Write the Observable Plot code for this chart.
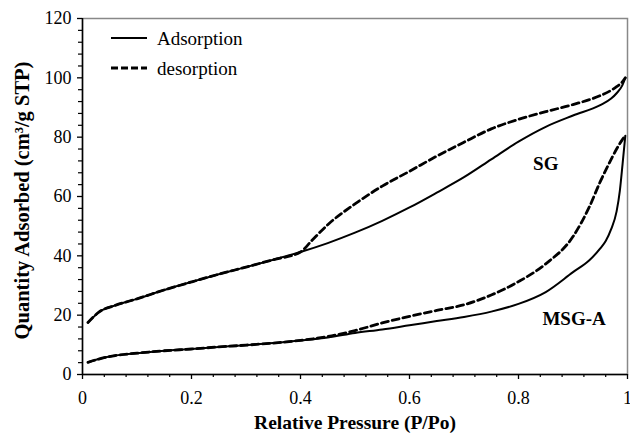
<!DOCTYPE html>
<html>
<head>
<meta charset="utf-8">
<script src="https://cdn.jsdelivr.net/npm/d3@7"></script>
<script src="https://cdn.jsdelivr.net/npm/@observablehq/plot@0.6"></script>
<style>
  html, body { margin: 0; padding: 0; background: #fff; }
  #wrap { position: relative; width: 630px; height: 437px; font-family: "Liberation Serif", "Times New Roman", serif; }
  #legend { position: absolute; left: 0; top: 0; }
  #wrap svg text { font-family: "Liberation Serif", "Times New Roman", serif; font-variant-numeric: normal; }
</style>
</head>
<body>
<div id="wrap"><svg id="legend" width="260" height="90"></svg></div>
<script>
// ---- data ----
const sgAdsP = [0.01,0.03,0.06,0.1,0.15,0.2,0.25,0.3,0.35,0.4,0.45,0.5,0.55,0.6,0.65,0.7,0.75,0.8,0.85,0.9,0.95,0.97,0.98,0.99,0.996];
const sgAdsQ = [17.5,21,23.3,25.5,28.5,31.2,33.8,36.2,38.7,41.3,44.3,47.8,51.8,56.3,61.3,66.5,72.5,78.5,83.5,87.3,90.8,93,94.8,97.3,100];
const sgDesP = [0.01,0.03,0.06,0.1,0.15,0.2,0.25,0.3,0.35,0.4,0.42,0.45,0.5,0.55,0.6,0.65,0.7,0.75,0.8,0.85,0.9,0.95,0.97,0.98,0.99,0.996];
const sgDesQ = [17.5,21,23.3,25.5,28.5,31.2,33.8,36.2,38.7,41.3,45,50.5,57.5,63.5,68.5,73.6,78.3,82.8,86,88.6,91,94,95.8,97,98.5,100];
const msgAdsP = [0.01,0.03,0.06,0.1,0.15,0.2,0.25,0.3,0.35,0.4,0.45,0.5,0.55,0.6,0.65,0.7,0.75,0.8,0.85,0.9,0.93,0.95,0.96,0.97,0.98,0.986,0.991,0.996];
const msgAdsQ = [4.1,5.2,6.4,7.2,8.0,8.6,9.3,9.9,10.6,11.5,12.5,14,15.2,16.6,18,19.4,21.2,23.8,27.8,34.5,38.5,42.5,45,49,55,62,71,80.5];
const msgDesP = [0.01,0.03,0.06,0.1,0.15,0.2,0.25,0.3,0.35,0.4,0.45,0.5,0.55,0.6,0.65,0.7,0.75,0.8,0.85,0.9,0.93,0.95,0.97,0.98,0.99,0.996];
const msgDesQ = [4.1,5.2,6.4,7.2,8.0,8.6,9.3,9.9,10.6,11.5,12.8,14.8,17.4,19.6,21.6,23.5,26.8,31.3,37.3,46.5,56.5,65,72.5,76,79,80.6];

const sampleNames = ["SG", "MSG-A"];
const sampleLabelP = [0.85, 0.902];
const sampleLabelQ = [71, 18.8];

const xTicks = [0, 0.2, 0.4, 0.6, 0.8, 1];
const xTickLabels = ["0", "0.2", "0.4", "0.6", "0.8", "1"];
const xMinorTicks = [0.04,0.08,0.12,0.16,0.24,0.28,0.32,0.36,0.44,0.48,0.52,0.56,0.64,0.68,0.72,0.76,0.84,0.88,0.92,0.96];
const yTicks = [0, 20, 40, 60, 80, 100, 120];
const yMinorTicks = [4,8,12,16,24,28,32,36,44,48,52,56,64,68,72,76,84,88,92,96,104,108,112,116];

const xTitle = "Relative Pressure (P/Po)";
const yTitle = "Quantity Adsorbed (cm\u00B3/g STP)";
const legendNames = ["Adsorption", "desorption"];

// ---- build tables ----
const toRows = (P, Q) => P.map((p, i) => ({p, q: Q[i]}));
const sgAds = toRows(sgAdsP, sgAdsQ);
const sgDes = toRows(sgDesP, sgDesQ);
const msgAds = toRows(msgAdsP, msgAdsQ);
const msgDes = toRows(msgDesP, msgDesQ);
const labels = sampleNames.map((t, i) => ({t, p: sampleLabelP[i], q: sampleLabelQ[i]}));

const font = "Liberation Serif";
const solid = {x: "p", y: "q", stroke: "black", strokeWidth: 2, curve: "monotone-x"};
const dashed = {x: "p", y: "q", stroke: "black", strokeWidth: 2.8, strokeDasharray: "7,4", curve: "monotone-x"};

const chart = Plot.plot({
  width: 630,
  height: 437,
  marginLeft: 82,
  marginRight: 3,
  marginTop: 18,
  marginBottom: 63,
  style: {fontFamily: font, fontSize: "18px", color: "black", background: "white"},
  x: {domain: [0, 1]},
  y: {domain: [0, 120]},
  marks: [
    Plot.frame({stroke: "#888", strokeWidth: 1.5}),
    Plot.axisX({ticks: xTicks, tickSize: 5, tickPadding: 12, label: null, fontSize: 18, fontFamily: font, strokeWidth: 1.3,
      tickFormat: d => xTickLabels[xTicks.indexOf(d)]}),
    Plot.axisX({ticks: xMinorTicks, tickSize: 3, text: null, label: null, strokeWidth: 1.2}),
    Plot.axisY({ticks: yTicks, tickSize: 5, tickPadding: 6, label: null, fontSize: 18, fontFamily: font, strokeWidth: 1.3,
      tickFormat: d => String(d)}),
    Plot.axisY({ticks: yMinorTicks, tickSize: 4, text: null, label: null, strokeWidth: 1.2}),
    Plot.ruleX([0], {strokeWidth: 1.5}),
    Plot.ruleY([0], {strokeWidth: 1.5}),
    Plot.line(sgAds, solid),
    Plot.line(sgDes, dashed),
    Plot.line(msgAds, solid),
    Plot.line(msgDes, dashed),
    Plot.text(labels, {x: "p", y: "q", text: "t", fontWeight: "bold", fontSize: 19, fontFamily: font}),
    Plot.text([xTitle], {frameAnchor: "bottom", dy: 48, lineAnchor: "middle", fontWeight: "bold", fontSize: 19.5, fontFamily: font}),
    Plot.text([yTitle], {frameAnchor: "left", dx: -60, dy: 4, rotate: -90, textAnchor: "middle", lineAnchor: "middle", fontWeight: "bold", fontSize: 20.5, fontFamily: font})
  ]
});
document.getElementById("wrap").insertBefore(chart, document.getElementById("legend"));

// ---- legend overlay ----
const lg = d3.select("#legend");
legendNames.forEach((name, i) => {
  const y = 38 + i * 30;
  lg.append("line").attr("x1", 111).attr("x2", 147).attr("y1", y).attr("y2", y)
    .attr("stroke", "black").attr("stroke-width", i === 0 ? 2 : 2.8)
    .attr("stroke-dasharray", i === 0 ? null : "7,3");
  lg.append("text").attr("x", 157).attr("y", y).attr("dy", "0.35em")
    .attr("font-family", font).attr("font-size", 19).text(name);
});
</script>
</body>
</html>
